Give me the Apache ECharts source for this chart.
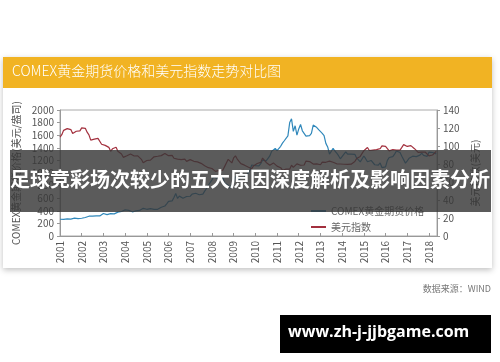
<!DOCTYPE html>
<html>
<head>
<meta charset="utf-8">
<script src="https://cdn.jsdelivr.net/npm/echarts@6/dist/echarts.min.js"></script>
<style>
html,body{margin:0;padding:0;background:#fff;}
#chart{width:500px;height:362px;}
</style>
</head>
<body>
<div id="chart"></div>
<script>
// ---- data (monthly, starting Jan 2001) ----
var startYear = 2001;
var yearTicks = [2001,2002,2003,2004,2005,2006,2007,2008,2009,2010,2011,2012,2013,2014,2015,2016,2017,2018];
var goldPrice = [
  266,262,263,261,272,270,268,273,283,283,276,276,
  282,296,294,302,314,321,314,310,319,317,319,333,
  357,359,340,328,355,356,351,360,379,379,389,407,
  414,405,406,404,384,392,398,400,406,420,439,442,
  424,423,434,429,422,431,424,438,456,470,476,510,
  549,555,557,610,676,596,633,632,598,586,627,629,
  631,665,655,679,667,655,665,665,712,754,806,803,
  889,940,968,909,888,889,939,839,829,806,760,816,
  858,943,924,890,928,946,934,949,996,1043,1127,1134,
  1118,1095,1113,1148,1205,1232,1193,1215,1271,1343,1370,1391,
  1356,1372,1424,1474,1512,1529,1590,1800,1860,1660,1750,1600,
  1700,1770,1670,1650,1585,1596,1594,1630,1760,1770,1721,1688,
  1670,1628,1593,1470,1414,1300,1286,1390,1349,1316,1275,1225,
  1244,1300,1336,1299,1287,1300,1311,1296,1239,1222,1176,1200,
  1270,1227,1178,1198,1199,1181,1131,1117,1125,1159,1086,1068,
  1097,1200,1246,1242,1260,1300,1350,1340,1326,1267,1238,1157,
  1192,1234,1231,1267,1246,1260,1236,1283,1315,1280,1283,1265,
  1331,1331,1325,1335,1303
];
var dollarIndex = [
  109.8,112.6,117.4,116.2,119.3,120.3,118.2,113.9,114.0,116.4,117.4,116.8,
  120.2,119.3,119.6,115.4,112.4,106.5,107.4,107.6,107.8,108.4,106.4,102.0,
  100.5,100.7,100.8,98.5,94.1,96.9,98.1,98.6,94.1,94.4,91.2,87.4,
  88.4,89.1,88.4,91.2,89.3,88.9,89.7,89.0,87.8,85.2,81.3,80.9,
  83.9,82.7,84.3,84.8,88.0,89.5,88.6,87.1,89.3,90.2,91.6,91.2,
  89.2,90.4,89.6,86.4,85.1,85.5,85.1,84.8,86.0,85.5,82.9,83.7,
  84.9,83.9,83.0,81.7,82.4,82.2,80.7,81.1,78.0,76.7,75.9,76.7,
  75.0,73.8,71.8,73.5,72.9,72.8,73.1,77.1,79.2,85.2,86.9,81.2,
  86.7,89.0,85.5,85.3,80.4,80.3,78.7,78.3,76.6,76.2,74.7,77.9,
  79.5,80.5,81.0,81.8,86.6,86.0,81.7,83.0,78.6,77.4,81.2,79.0,
  77.6,76.9,75.9,73.1,74.6,74.3,74.0,74.3,78.6,76.2,78.4,80.2,
  79.1,78.6,79.0,78.9,83.2,81.6,82.7,81.2,79.9,79.9,80.2,79.8,
  79.2,82.1,83.0,81.9,83.3,83.2,81.5,81.9,80.2,80.2,80.7,80.0,
  81.3,79.7,80.1,79.5,80.4,79.8,81.5,82.8,86.0,86.9,88.4,90.3,
  94.8,95.3,98.4,95.0,96.9,95.5,97.3,96.0,96.2,97.0,100.2,98.6,
  99.6,98.2,94.6,93.1,95.9,96.1,95.5,96.0,95.4,98.4,101.5,102.2,
  99.5,101.1,100.4,99.1,97.0,95.6,92.9,92.7,93.1,94.6,93.1,92.1,
  89.1,90.6,90.0,91.8,94.0
];
var leftTicks = [0,200,400,600,800,1000,1200,1400,1600,1800,2000];
var rightTicks = [0,20,40,60,80,100,120,140];
var seriesNames = ['COMEX黄金期货价格','美元指数'];
var chartTitle = 'COMEX黄金期货价格和美元指数走势对比图';
var bannerText = '足球竞彩场次较少的五大原因深度解析及影响因素分析';
var siteText = 'www.zh-j-jjbgame.com';
var sourceText = '数据来源：WIND';

function toPairs(arr){ return arr.map(function(v,i){ return [startYear + i/12, v]; }); }

var FONT = '"Noto Sans CJK SC","Noto Sans",sans-serif';
var chart = echarts.init(document.getElementById('chart'), null, {renderer:'canvas'});
chart.setOption({
  animation:false,
  backgroundColor:'#fff',
  textStyle:{fontFamily:FONT},
  graphic:[
    {type:'rect', z:-10, shape:{x:3,y:57,width:489,height:211},
      style:{fill:'#fff', shadowBlur:6, shadowColor:'rgba(0,0,0,0.25)', shadowOffsetY:2}},
    {type:'rect', z:-5, shape:{x:3,y:57,width:489,height:31}, style:{fill:'#F1B323'}},
    {type:'text', z:-4, left:12, top:64, style:{text:chartTitle, fill:'#fff', font:'300 14px '+FONT}},
    {type:'text', right:9, top:284, style:{text:sourceText, fill:'#777', font:'9px '+FONT}},
    {type:'rect', z:100, shape:{x:10,y:150,width:481,height:62}, style:{fill:'rgba(55,55,55,0.82)'}},
    {type:'text', z:101, left:'center', top:169, style:{text:bannerText, fill:'#fff', font:'bold 20px '+FONT}},
    {type:'rect', z:100, shape:{x:280,y:315,width:211,height:38}, style:{fill:'#000'}},
    {type:'text', z:101, left:288, top:324, style:{text:siteText, fill:'#fff', font:'bold 16px "Open Sans",sans-serif'}}
  ],
  grid:{left:60, right:63, top:110, bottom:126, show:true, borderColor:'#aaa', borderWidth:1, containLabel:false},
  legend:{
    orient:'vertical', left:306, top:201, itemGap:6,
    itemWidth:15, itemHeight:2, icon:'rect',
    textStyle:{color:'#666', fontSize:10, fontFamily:FONT},
    data:seriesNames
  },
  xAxis:{
    type:'value', min:yearTicks[0], max:2018.37, interval:1,
    axisLine:{lineStyle:{color:'#999'}},
    axisTick:{inside:true, length:3, lineStyle:{color:'#999'}},
    splitLine:{show:false},
    axisLabel:{rotate:90, color:'#555', fontSize:10, margin:5,
      formatter:function(v){ return Math.abs(v-Math.round(v))<1e-6 && yearTicks.indexOf(Math.round(v))>=0 ? String(Math.round(v)) : ''; }}
  },
  yAxis:[
    {type:'value', min:leftTicks[0], max:leftTicks[leftTicks.length-1], interval:200, position:'left',
      name:'COMEX黄金期货价格(美元/盎司)', nameLocation:'middle', nameRotate:90, nameGap:36,
      nameTextStyle:{color:'#555', fontSize:10},
      axisLine:{show:true, lineStyle:{color:'#999'}},
      axisTick:{show:true, length:3, lineStyle:{color:'#999'}},
      splitLine:{show:false},
      axisLabel:{color:'#555', fontSize:10, margin:6, formatter:function(v){ return String(v); }}},
    {type:'value', min:rightTicks[0], max:rightTicks[rightTicks.length-1], interval:20, position:'right',
      name:'美元指数(美元)', nameLocation:'middle', nameRotate:90, nameGap:28,
      nameTextStyle:{color:'#555', fontSize:10},
      axisLine:{show:true, lineStyle:{color:'#999'}},
      axisTick:{show:true, length:3, lineStyle:{color:'#999'}},
      splitLine:{show:false},
      axisLabel:{color:'#555', fontSize:10, margin:6, formatter:function(v){ return String(v); }}}
  ],
  series:[
    {name:seriesNames[0], type:'line', yAxisIndex:0, showSymbol:false, symbol:'none',
      lineStyle:{width:1.2, color:'#3088bb'}, itemStyle:{color:'#3088bb'}, data:toPairs(goldPrice)},
    {name:seriesNames[1], type:'line', yAxisIndex:1, showSymbol:false, symbol:'none',
      lineStyle:{width:1.2, color:'#a3303e'}, itemStyle:{color:'#a3303e'}, data:toPairs(dollarIndex)}
  ]
});
</script>
</body>
</html>
